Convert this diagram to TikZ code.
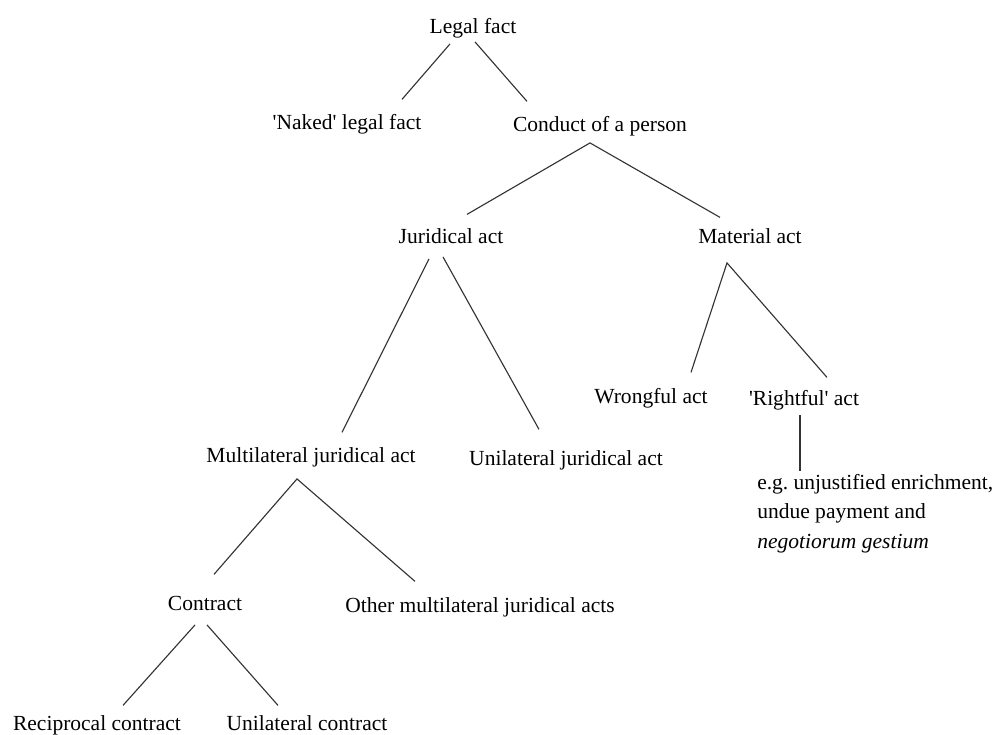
\documentclass[tikz,border=0pt]{standalone}
\usepackage{fontspec}
\setmainfont{Liberation Serif}
\usetikzlibrary{positioning}

\tikzset{
  term/.style={inner sep=0pt, anchor=base, text height=10.2pt, text depth=3.3pt},
  branch/.style={line width=.8pt, color=black!80}
}

\begin{document}
\begin{tikzpicture}[x=0.025cm, y=-0.025cm, font=\fontsize{15.3}{21}\selectfont]
\useasboundingbox (0,0) rectangle (1002,735);

% top
\node[term] (legal)   at (473,34)  {Legal fact};
\node[term] (naked)   at (347,130) {\textquotesingle Naked\textquotesingle{} legal fact};
\node[term] (conduct) at (600,132) {Conduct of a person};

% acts
\node[term] (jur) at (451,244) {Juridical act};
\node[term] (mat) at (750,244) {Material act};

% material side
\node[term] (wrong) at (651,404) {Wrongful act};
\node[term] (right) at (804,406) {\textquotesingle Rightful\textquotesingle{} act};
\node[inner sep=0pt, anchor=north west, align=left] (eg) at (757,474)
  {e.g.\ unjustified enrichment,\\ undue payment and\\ \textit{negotiorum gestium}};

% juridical side
\node[term] (multi)  at (311,462) {Multilateral juridical act};
\node[term] (unijur) at (566,465) {Unilateral juridical act};
\node[term] (contr)  at (205,610) {Contract};
\node[term] (other)  at (480,612) {Other multilateral juridical acts};
\node[term] (recip)  at (97,730)  {Reciprocal contract};
\node[term] (unicon) at (307,730) {Unilateral contract};

% branches
\draw[branch] ([shift={(-23,5)}]legal.south) -- ([shift={(55,-16)}]naked.north);
\draw[branch] ([shift={(2,3)}]legal.south) -- ([shift={(-73,-16)}]conduct.north);

\draw[branch] ([shift={(16,-15)}]jur.north) -- ([shift={(-10,6)}]conduct.south)
  -- ([shift={(-30,-12)}]mat.north);

\draw[branch] ([shift={(-22,10)}]jur.south) -- ([shift={(31,-15)}]multi.north);
\draw[branch] ([shift={(-8,8)}]jur.south) -- ([shift={(-27,-21)}]unijur.north);

\draw[branch] ([shift={(40,-17)}]wrong.north) -- ([shift={(-23,14)}]mat.south)
  -- ([shift={(23,-14)}]right.north);
\draw[branch] ([shift={(-4,4)}]right.south) -- ([shift={(43,-3)}]eg.north west);

\draw[branch] ([shift={(9,-21)}]contr.north) -- ([shift={(-14,12)}]multi.south)
  -- ([shift={(-65,-16)}]other.north);

\draw[branch] ([shift={(-10,10)}]contr.south) -- ([shift={(26,-10)}]recip.north);
\draw[branch] ([shift={(2,10)}]contr.south) -- ([shift={(-29,-10)}]unicon.north);

\end{tikzpicture}
\end{document}
